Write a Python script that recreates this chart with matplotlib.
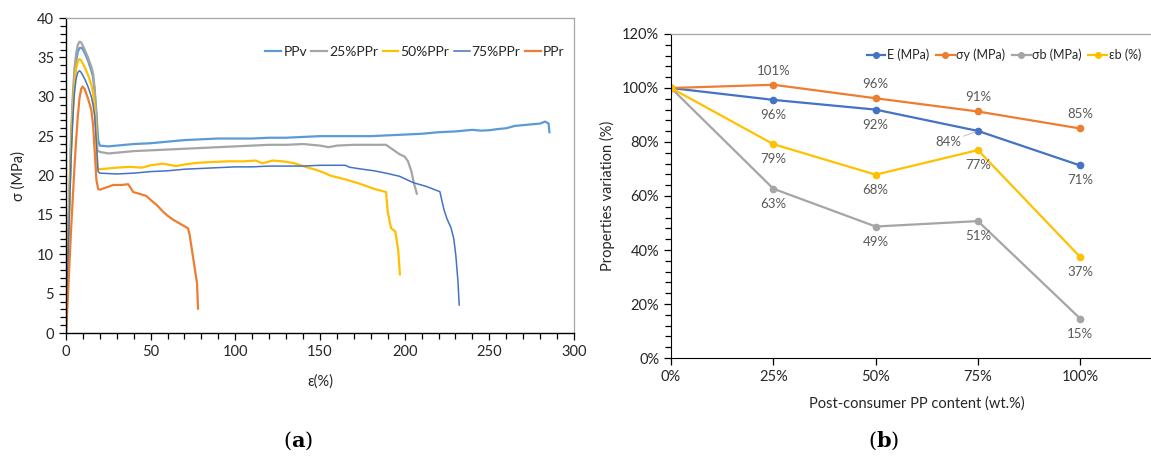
import numpy as np
import matplotlib
matplotlib.use("Agg")
import matplotlib.pyplot as plt
from matplotlib.ticker import MultipleLocator, FixedLocator, PercentFormatter

plt.rcParams['font.family'] = ['Lato', 'DejaVu Sans']
TXT = '#262626'

# ---- (a) stress-strain curves ----
ppv_x = [0, 1, 2, 3, 4, 5, 6, 7, 8, 9.5, 11, 13, 15, 16, 17, 18, 19, 20, 25, 30, 40, 50, 60, 70, 80, 90,
         100, 110, 120, 130, 140, 150, 160, 170, 180, 190, 200, 210, 220, 230, 240, 245, 250, 255, 260,
         265, 270, 275, 280, 283, 285, 285.5]
ppv_y = [0, 9, 17, 24, 29, 32.5, 34.5, 35.7, 36.2, 36.2, 35.6, 34.6, 33.3, 32.5, 30.5, 28, 24.5, 23.8,
         23.7, 23.8, 24.0, 24.1, 24.3, 24.5, 24.6, 24.7, 24.7, 24.7, 24.8, 24.8, 24.9, 25.0, 25.0, 25.0,
         25.0, 25.1, 25.2, 25.3, 25.5, 25.6, 25.8, 25.7, 25.75, 25.9, 26.0, 26.3, 26.4, 26.5, 26.6, 26.85,
         26.6, 25.5]

r25_x = [0, 1, 2, 3, 4, 5, 6, 7, 8, 9, 11, 13, 15, 16, 17, 18, 18.5, 20, 25, 30, 40, 50, 60, 70, 80, 90,
         100, 110, 120, 130, 140, 150, 155, 160, 170, 180, 189, 193, 197, 200, 202, 204, 205.5, 207.2]
r25_y = [0, 9, 17.5, 25, 30, 33.5, 35.5, 36.6, 37.0, 36.9, 36, 35, 33.8, 33, 31, 27, 23.2, 23.0, 22.8,
         22.9, 23.1, 23.2, 23.3, 23.4, 23.5, 23.6, 23.7, 23.8, 23.9, 23.9, 24.0, 23.8, 23.6, 23.8, 23.9,
         23.9, 23.9, 23.3, 22.7, 22.4, 21.8, 20.5, 19.0, 17.7]

r50_x = [0, 1, 2, 3, 4, 5, 6, 7, 8, 9, 11, 13, 15, 16, 17, 18, 18.5, 20, 30, 38, 45, 50, 57, 60, 65, 70,
         77, 85, 95, 105, 112, 116, 122, 128, 134, 138, 143, 148, 153, 156, 165, 173, 182, 189, 190, 192,
         194.5, 196.2, 197.2]
r50_y = [0, 8.5, 16, 23, 28, 31.5, 33.5, 34.5, 34.8, 34.6, 33.8, 32.8, 31.5, 30.5, 28.5, 25, 20.8, 20.8,
         21.0, 21.1, 21.0, 21.3, 21.5, 21.4, 21.2, 21.4, 21.6, 21.7, 21.8, 21.8, 21.9, 21.55, 21.9, 21.8,
         21.6, 21.35, 21.0, 20.7, 20.3, 20.0, 19.5, 19.0, 18.3, 17.9, 15.4, 13.3, 12.9, 10.5, 7.45]

r75_x = [0, 1, 2, 3, 4, 5, 6, 7, 8, 9, 11, 13, 15, 16, 17, 18, 19, 20, 30, 40, 50, 60, 70, 80, 90, 100,
         110, 120, 130, 140, 150, 160, 165, 167.5, 175, 182, 189, 197, 205, 213, 220.8, 222, 223.3, 225,
         227.3, 229, 230.2, 231.5, 232.2]
r75_y = [0, 7.5, 15, 22, 27, 30.5, 32.3, 33.1, 33.3, 33.1, 32.3, 31.3, 30.0, 29, 27.5, 24, 20.5, 20.3,
         20.2, 20.3, 20.5, 20.6, 20.8, 20.9, 21.0, 21.1, 21.1, 21.2, 21.2, 21.2, 21.3, 21.3, 21.3, 21.05,
         20.8, 20.6, 20.3, 19.9, 19.1, 18.6, 17.95, 16.8, 15.6, 14.5, 13.4, 12.0, 9.9, 6.5, 3.56]

ppr_x = [0, 1, 2, 3, 4, 5, 6, 7, 8, 9, 9.8, 11, 13, 15, 16, 17, 18, 19, 20, 24, 28, 33, 36.7, 38, 39.7,
         43, 47.5, 50, 53.4, 57.4, 60, 63.2, 68, 72.1, 73, 75, 77.4, 78]
ppr_y = [0, 4, 8.5, 13, 17, 21, 24.5, 27.5, 29.8, 31.0, 31.3, 31.0, 29.8, 28.3, 26.5, 23, 19.4, 18.3,
         18.2, 18.5, 18.8, 18.8, 18.9, 18.5, 17.9, 17.7, 17.4, 16.9, 16.3, 15.4, 14.9, 14.4, 13.8, 13.3,
         12.5, 9.7, 6.3, 3.1]

# ---- (b) relative property values ----
content = [0.0, 0.25, 0.50, 0.75, 1.00]
E_rel = [1.0, 0.956, 0.920, 0.841, 0.713]
sy_rel = [1.0, 1.012, 0.962, 0.913, 0.850]
sb_rel = [1.0, 0.627, 0.487, 0.507, 0.146]
eb_rel = [1.0, 0.792, 0.679, 0.770, 0.374]

fig = plt.figure(figsize=(11.51, 4.67), dpi=100)

# ================= (a) =================
ax = fig.add_axes([0.0573, 0.2869, 0.4414, 0.6745])
curves = [
    (ppv_x, ppv_y, 'PPv', '#5B9BD5', 1.6),
    (r25_x, r25_y, '25%PPr', '#A5A5A5', 1.6),
    (r50_x, r50_y, '50%PPr', '#FFC000', 1.6),
    (r75_x, r75_y, '75%PPr', '#4472C4', 1.1),
    (ppr_x, ppr_y, 'PPr', '#ED7D31', 1.6),
]
for x, y, lab, c, lw in curves:
    ax.plot(x, y, color=c, lw=lw, label=lab, solid_joinstyle='round')

ax.set_xlim(0, 300)
ax.set_ylim(0, 40)
ax.xaxis.set_major_locator(MultipleLocator(50))
ax.xaxis.set_minor_locator(MultipleLocator(10))
ax.yaxis.set_major_locator(MultipleLocator(5))
ax.yaxis.set_minor_locator(MultipleLocator(1))
ax.tick_params(which='both', direction='out', colors='black', labelcolor=TXT, labelsize=10.5)
ax.tick_params(which='major', length=5, width=0.9)
ax.tick_params(which='minor', length=4, width=0.9)
for s in ['top', 'right']:
    ax.spines[s].set_color('#A6A6A6')
    ax.spines[s].set_linewidth(0.9)
for s in ['left', 'bottom']:
    ax.spines[s].set_linewidth(1.0)
ax.set_xlabel('ε(%)', fontsize=10.5, color=TXT, labelpad=11)
ax.set_ylabel('σ (MPa)', fontsize=10.5, color=TXT, labelpad=8)
ax.legend(loc='center right', bbox_to_anchor=(0.992, 0.892), ncol=5, frameon=False,
          fontsize=10, handlelength=1.15, handletextpad=0.15, columnspacing=0.3,
          labelcolor=TXT, borderaxespad=0)

# ================= (b) =================
bx = fig.add_axes([0.583, 0.2334, 0.4266, 0.6938])
series = [
    (E_rel, 'E (MPa)', '#4472C4'),
    (sy_rel, 'σy (MPa)', '#ED7D31'),
    (sb_rel, 'σb (MPa)', '#A5A5A5'),
    (eb_rel, 'εb (%)', '#FFC000'),
]
for vals, lab, c in series:
    bx.plot(content, vals, color=c, lw=1.6, marker='o', ms=4.5, label=lab)

lab_kw = dict(textcoords='offset pixels', ha='center', va='center', fontsize=9.5, color='#595959')
for i in range(1, 5):
    # E labels below, except the 75 % point which sits left with a leader line
    if i == 3:
        bx.annotate(f'{E_rel[i]:.0%}', (content[i], E_rel[i]), xytext=(-30, -11),
                    arrowprops=dict(arrowstyle='-', color='#BFBFBF', lw=0.7,
                                    shrinkA=0, shrinkB=2), **lab_kw)
    else:
        bx.annotate(f'{E_rel[i]:.0%}', (content[i], E_rel[i]), xytext=(0, -15), **lab_kw)
    bx.annotate(f'{sy_rel[i]:.0%}', (content[i], sy_rel[i]), xytext=(0, 14), **lab_kw)
    bx.annotate(f'{sb_rel[i]:.0%}', (content[i], sb_rel[i]), xytext=(0, -15), **lab_kw)
    bx.annotate(f'{eb_rel[i]:.0%}', (content[i], eb_rel[i]), xytext=(0, -15), **lab_kw)

bx.set_xlim(0, 1.2)
bx.set_ylim(0, 1.2)
bx.xaxis.set_major_locator(FixedLocator([0, 0.25, 0.5, 0.75, 1.0]))
bx.xaxis.set_major_formatter(PercentFormatter(1.0, decimals=0))
bx.yaxis.set_major_locator(MultipleLocator(0.2))
bx.yaxis.set_minor_locator(MultipleLocator(0.04))
bx.yaxis.set_major_formatter(PercentFormatter(1.0, decimals=0))
bx.tick_params(which='both', direction='out', colors='black', labelcolor=TXT, labelsize=10.5)
bx.tick_params(which='major', length=5, width=0.9)
bx.tick_params(which='minor', length=4, width=0.9)
for s in ['top', 'right']:
    bx.spines[s].set_color('#A6A6A6')
    bx.spines[s].set_linewidth(0.9)
bx.set_xlabel('Post-consumer PP content (wt.%)', fontsize=10.5, color=TXT, labelpad=9)
bx.set_ylabel('Properties variation (%)', fontsize=10.5, color=TXT, labelpad=5)
bx.legend(loc='center right', bbox_to_anchor=(0.968, 0.935), ncol=4, frameon=False,
          fontsize=9, handlelength=1.5, handletextpad=0.15, columnspacing=0.5,
          labelcolor=TXT, borderaxespad=0, markerscale=0.9)

# panel letters
for xc, letter in [(0.259, 'a'), (0.768, 'b')]:
    fig.text(xc, 0.032, r'($\mathbf{' + letter + r'}$)', ha='center', va='bottom', fontsize=15,
             family='DejaVu Serif', math_fontfamily='dejavuserif', color='black')

fig.savefig('out.png', dpi=100)
